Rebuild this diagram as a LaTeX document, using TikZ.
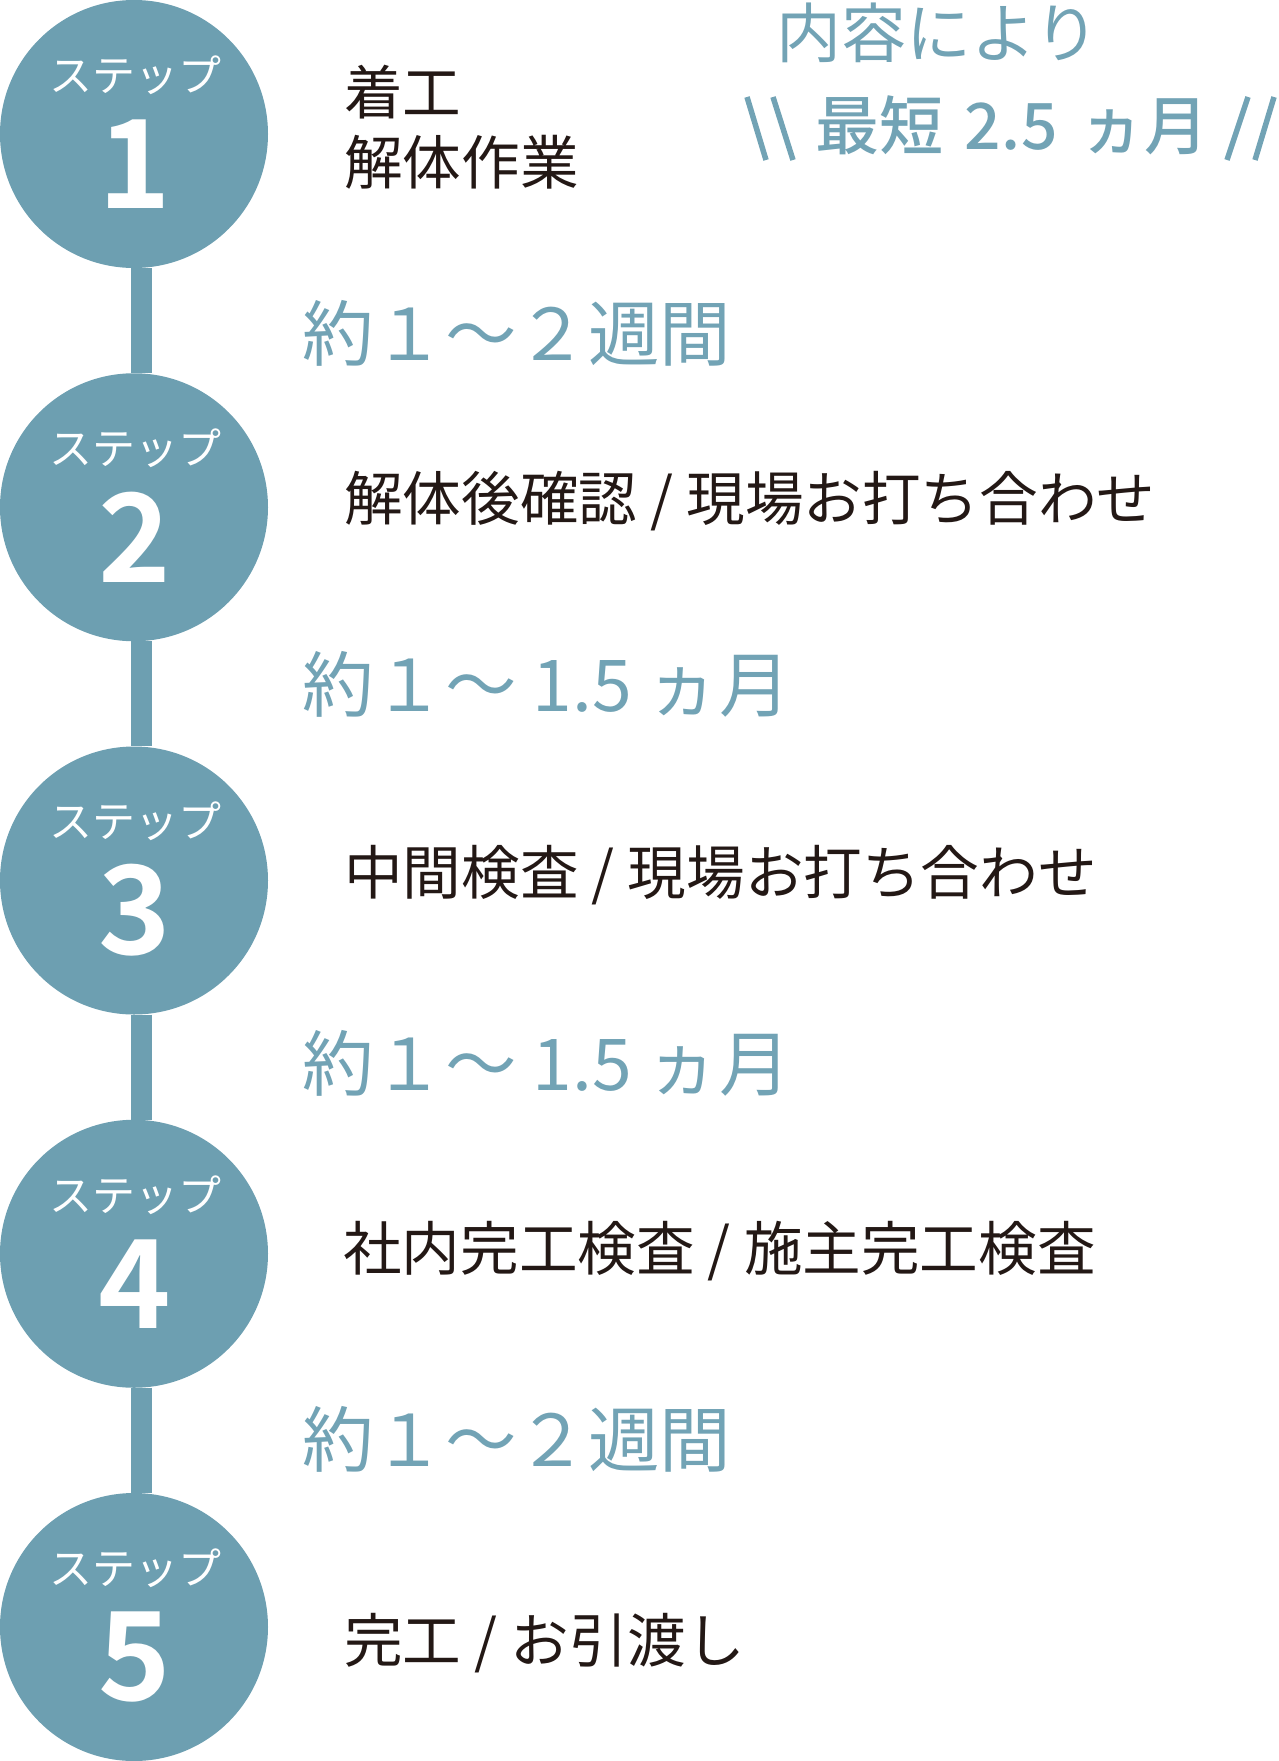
\documentclass[tikz,border=0pt]{standalone}
\usepackage{fontspec}
\setmainfont{Noto Sans CJK JP}[BoldFont={* Bold}]
\newfontfamily\medfont{Noto Sans CJK JP Medium}
\usepackage{xcolor}
\usetikzlibrary{calc,positioning}
\definecolor{stepblue}{HTML}{6D9FB1}
\definecolor{textblue}{HTML}{72A3B5}
\definecolor{inkblack}{HTML}{231815}
\tikzset{
  stepdot/.style={circle, fill=stepblue, minimum size=268pt, inner sep=0pt},
  steplabel/.style={text=white, font=\fontsize{43}{43}\selectfont, inner sep=0pt},
  stepnum/.style={text=white, font=\bfseries\fontsize{123}{123}\selectfont, inner sep=0pt},
  linkbar/.style={draw=stepblue, line width=21pt},
  task/.style={anchor=west, text=inkblack, font=\fontsize{58.6}{70}\selectfont, inner sep=0pt, align=left},
  durlabel/.style={anchor=west, text=textblue, font=\fontsize{71.5}{71.5}\selectfont, inner sep=0pt},
}

\begin{document}
\begin{tikzpicture}[x=1pt,y=-1pt]
        \useasboundingbox (0,0) rectangle (1278,1761);
        \foreach \i in {1,...,5} {
            \node[stepdot] (s\i) at (134,{134+(\i-1)*373.25}) {};
            \node[steplabel] (l\i) at ($(s\i)+(1,-59)$) {ステップ};
            \node[stepnum] (n\i) at ($(s\i)+(1,30)$) {\i};
        }
        \foreach \i/\j in {1/2,2/3,3/4,4/5}
            \draw[linkbar] ([xshift=7.5pt]s\i.south) -- ([xshift=7.5pt]s\j.north);
        \node[task] (t1) at (344,127) {着工\\解体作業};
        \node[task] (t2) at (344,501) {解体後確認 / 現場お打ち合わせ};
        \node[task] (t3) at (344,875) {中間検査 / 現場お打ち合わせ};
        \node[task] (t4) at (343,1251) {社内完工検査 / 施主完工検査};
        \node[task] (t5) at (344,1643) {完工 / お引渡し};
        \node[durlabel] (d1) at (302,333) {約１〜２週間};
        \node[durlabel] (d2) at (302,684) {約１〜 1.5 ヵ月};
        \node[durlabel] (d3) at (302,1063) {約１〜 1.5 ヵ月};
        \node[durlabel] (d4) at (302,1439) {約１〜２週間};
        \node[anchor=west, text=textblue, font=\fontsize{65}{65}\selectfont, inner sep=0pt] (note) at (776,33) {内容により};
        \node[anchor=west, text=textblue, font=\medfont\fontsize{64}{64}\selectfont, inner sep=0pt] (fastest) at (815,125)
            {最短\hspace{21pt}2\hspace{1pt}.\hspace{1pt}5\hspace{22pt}ヵ月};
        \draw[textblue, line width=5.5pt] (747,97) -- (766,160) (773,97) -- (793,160)
            (1248,97) -- (1227,160) (1274,97) -- (1255,160);
    \end{tikzpicture}
\end{document}
